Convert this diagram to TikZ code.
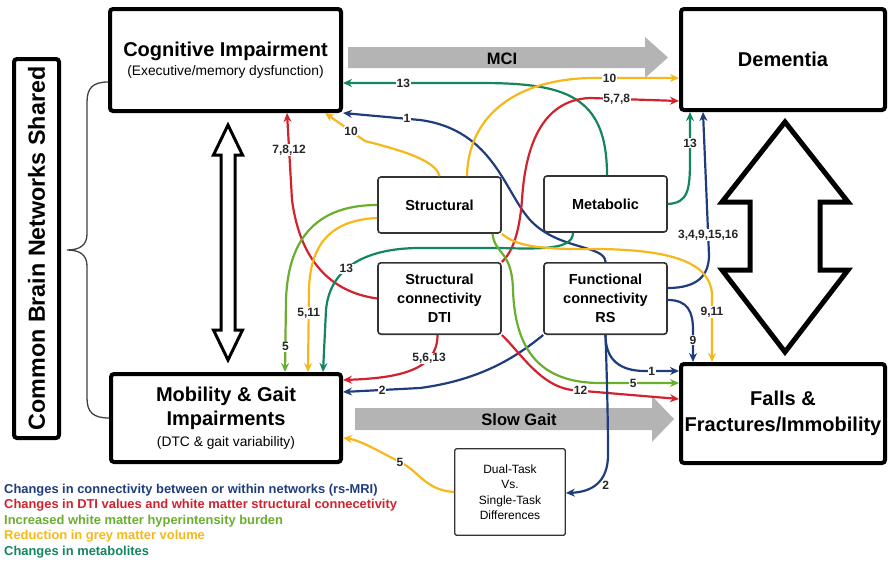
\documentclass[tikz,border=0pt]{standalone}
\usepackage{fontspec}
\setmainfont{Liberation Sans}
\usepackage{xcolor}
\usetikzlibrary{arrows.meta}

\definecolor{cblue}{HTML}{1F3D7C}
\definecolor{cred}{HTML}{D2222D}
\definecolor{cgreen}{HTML}{6AAE2E}
\definecolor{cyellow}{HTML}{F5B818}
\definecolor{cteal}{HTML}{13865B}
\definecolor{shaftgray}{HTML}{B4B4B4}
\newcommand{\subtext}[1]{{\mdseries\fontsize{13.8}{19}\selectfont #1}}

\begin{document}
\begin{tikzpicture}[x=1pt, y=-1pt,
  bigbox/.style={draw, line width=4pt, rounded corners=3pt, align=center,
                 font=\bfseries\fontsize{20}{24.5}\selectfont},
  srcbox/.style={draw=black!80, line width=1.6pt, rounded corners=3pt,
                 minimum width=123pt, align=center,
                 font=\bfseries\fontsize{14.5}{19}\selectfont},
  conn/.style={line width=2.2pt, -{Stealth[length=9pt,width=8pt]}},
  lbl/.style={fill=white, inner sep=0.8pt, text=black!85,
              font=\bfseries\fontsize{12}{12}\selectfont},
  hollow/.style={draw, fill=white, line join=miter},
  shaft/.style={fill=shaftgray},
]
  \useasboundingbox (0,0) rectangle (889,562);

  % outcome boxes
  \node[bigbox, minimum width=231pt, minimum height=102pt] (cog) at (225.5,60)
    {Cognitive Impairment\\[-5pt]\subtext{(Executive/memory dysfunction)}};
  \node[bigbox, minimum width=204pt, minimum height=101pt] (dem) at (783,59.5)
    {Dementia};
  \node[bigbox, minimum width=230pt, minimum height=88pt] (mob) at (226,418)
    {Mobility \& Gait\\Impairments\\[-4pt]\subtext{(DTC \& gait variability)}};
  \node[bigbox, minimum width=204pt, minimum height=99pt] (fall) at (783,413.5)
    {Falls \&\\[1pt]Fractures/Immobility};
  \node[bigbox, rotate=90, minimum width=379pt, minimum height=45pt,
        font=\bfseries\fontsize{23.3}{26}\selectfont] (common) at (36.5,248.5)
    {Common Brain Networks Shared};

  % imaging boxes
  \node[srcbox, minimum height=56pt] (strc) at (439.5,205) {Structural};
  \node[srcbox, minimum height=56pt] (meta) at (605.5,204) {Metabolic};
  \node[srcbox, minimum height=71.4pt] (dti) at (439.5,298.5)
    {Structural\\connectivity\\DTI};
  \node[srcbox, minimum height=71.4pt] (func) at (605.5,298.5)
    {Functional\\connectivity\\RS};
  \node[draw=black!80, line width=1.3pt, rounded corners=2pt,
        minimum width=110.5pt, minimum height=86.5pt, align=center,
        font=\fontsize{12}{15.5}\selectfont] (dual) at (510,492)
    {Dual-Task\\Vs.\\Single-Task\\Differences};

  % progression arrows
  \fill[shaft] (348,47) -- (645,47) -- (645,37) -- (668,57.5) -- (645,78)
    -- (645,68) -- (348,68) -- cycle;
  \node[font=\bfseries\fontsize{16.5}{16.5}\selectfont] (mci) at (502,59) {MCI};
  \fill[shaft] (355,408) -- (652,408) -- (652,396) -- (674,419) -- (652,442)
    -- (652,430) -- (355,430) -- cycle;
  \node[font=\bfseries\fontsize{16.5}{16.5}\selectfont] (slow) at (519,420)
    {Slow Gait};

  \draw[hollow, line width=3pt] (228,125) -- (242.5,155) -- (235,155) -- (235,330)
    -- (242.5,330) -- (228,360) -- (213.5,330) -- (221,330) -- (221,155)
    -- (213.5,155) -- cycle;
  \draw[hollow, line width=5pt] (785,122) -- (848,202) -- (820,202) -- (820,270)
    -- (848,270) -- (785,352) -- (722,270) -- (750,270) -- (750,202)
    -- (722,202) -- cycle;

  % brace
  \draw[line width=1.3pt, black!75] ([yshift=-22pt]cog.west)
    .. controls (93,82) and (87,88) .. (87,102) -- (87,234)
    .. controls (87,245) and (80,250) .. (67,250)
    .. controls (80,250) and (87,255) .. (87,266) -- (87,398)
    .. controls (87,412) and (93,418) .. (mob.west);

  % to cognitive impairment
  \draw[conn, cteal] ([xshift=1.5pt]meta.north) .. controls (607,95) and (565,83)
    .. (480,83) -- ([yshift=-23pt]cog.east) node[lbl, pos=.56] {13};
  \draw[conn, cblue] (func.north) .. controls (605,245) and (560,250) .. (532,222)
    .. controls (505,195) and (495,130) .. (420,120) -- (cog.south east)
    node[lbl, pos=.17] {1};
  \draw[conn, cyellow] (strc.north) .. controls (436,160) and (400,150)
    .. (365,141) -- ([xshift=99.5pt]cog.south) node[lbl, pos=.35] {10};
  \draw[conn, cred] (dti.west) .. controls (330,292) and (300,260) .. (292,200)
    -- ([xshift=61.5pt]cog.south) node[lbl, pos=.57] {7,8,12};

  % to dementia
  \draw[conn, cyellow] ([xshift=27.5pt]strc.north) .. controls (468,120) and (510,80)
    .. (590,78) -- ([yshift=-18.5pt]dem.west) node[lbl, pos=.22] {10};
  \draw[conn, cred] (dti.north east) .. controls (515,250) and (520,225) .. (522,200)
    .. controls (525,150) and (540,100) .. (590,98)
    -- ([yshift=-41.5pt]dem.west) node[lbl, pos=.3] {5,7,8};
  \draw[conn, cteal] (meta.east) .. controls (688,203) and (690,190) .. (690,160)
    -- ([xshift=-93pt]dem.south) node[lbl, pos=.35] {13};
  \draw[conn, cblue] ([yshift=10.5pt]func.east) .. controls (698,288) and (709,275)
    .. (709,255) -- ([xshift=-80pt]dem.south) node[lbl, pos=.14] {3,4,9,15,16};

  % to mobility & gait
  \draw[conn, cgreen] (strc.west) .. controls (320,205) and (288,235) .. (286,300)
    -- ([xshift=59pt]mob.north) node[lbl, pos=.65] {5};
  \draw[conn, cyellow] ([yshift=-13pt]strc.west) .. controls (330,220) and (310,245)
    .. (309,290) -- ([xshift=82pt]mob.north) node[lbl, pos=.28] {5,11};
  \draw[conn, cteal] ([xshift=-32.5pt]meta.south) .. controls (573,250) and (540,249)
    .. (500,248) -- (420,248) .. controls (370,248) and (330,265) .. (326,310)
    node[lbl, pos=.6] {13} -- ([xshift=97pt]mob.north);
  \draw[conn, cred] ([xshift=-2pt]dti.south) .. controls (437.5,370) and (400,378)
    .. ([yshift=38pt]mob.east) node[lbl, pos=.28] {5,6,13};
  \draw[conn, cblue] (func.south west) .. controls (515,358) and (480,380) .. (420,388)
    -- ([yshift=26pt]mob.east) node[lbl, pos=.49] {2};
  \draw[conn, cyellow] (dual.west) .. controls (425,490) and (420,472) .. (400,462)
    node[lbl] {5} .. controls (380,452) and (360,440) .. ([yshift=-20pt]mob.east);

  % to falls
  \draw[conn, cblue] ([yshift=-1.5pt]func.east) .. controls (688,300) and (693,312)
    .. (693,330) -- ([xshift=-90pt]fall.north) node[lbl, pos=.31] {9};
  \draw[conn, cyellow] (strc.south east) .. controls (515,245) and (535,250) .. (600,249)
    .. controls (670,250) and (711,262) .. (712,295)
    -- ([xshift=-71pt]fall.north) node[lbl, pos=.25] {9,11};
  \draw[conn, cgreen] ([xshift=53pt]strc.south) .. controls (495,255) and (512,250)
    .. (513,290) .. controls (515,350) and (540,383) .. (600,383)
    -- ([yshift=30.5pt]fall.west) node[lbl, pos=.42] {5};
  \draw[conn, cred] (dti.south east) .. controls (520,352) and (540,386) .. (572,390)
    -- ([yshift=14.5pt]fall.west) node[lbl, pos=.08] {12};
  \draw[conn, cblue] (func.south) .. controls (605.5,360) and (620,371) .. (645,371)
    -- ([yshift=42.5pt]fall.west) node[lbl, pos=.2] {1};

  % to dual-task
  \draw[conn, cblue] (func.south) .. controls (607,380) and (608,420) .. (608,455)
    .. controls (608,482) and (592,492) .. ([yshift=-1pt]dual.east)
    node[lbl, fill=none, pos=.5, xshift=9pt, yshift=-2pt] {2};

  % legend
  \node[anchor=north west, align=left, inner sep=0pt,
        font=\bfseries\fontsize{12.9}{15.5}\selectfont] (legend) at (4,483.5)
    {\textcolor{cblue}{Changes in connectivity between or within networks (rs-MRI)}\\
     \textcolor{cred}{Changes in DTI values and white matter structural connecetivity}\\
     \textcolor{cgreen}{Increased white matter hyperintensity burden}\\
     \textcolor{cyellow}{Reduction in grey matter volume}\\
     \textcolor{cteal}{Changes in metabolites}};
\end{tikzpicture}
\end{document}
